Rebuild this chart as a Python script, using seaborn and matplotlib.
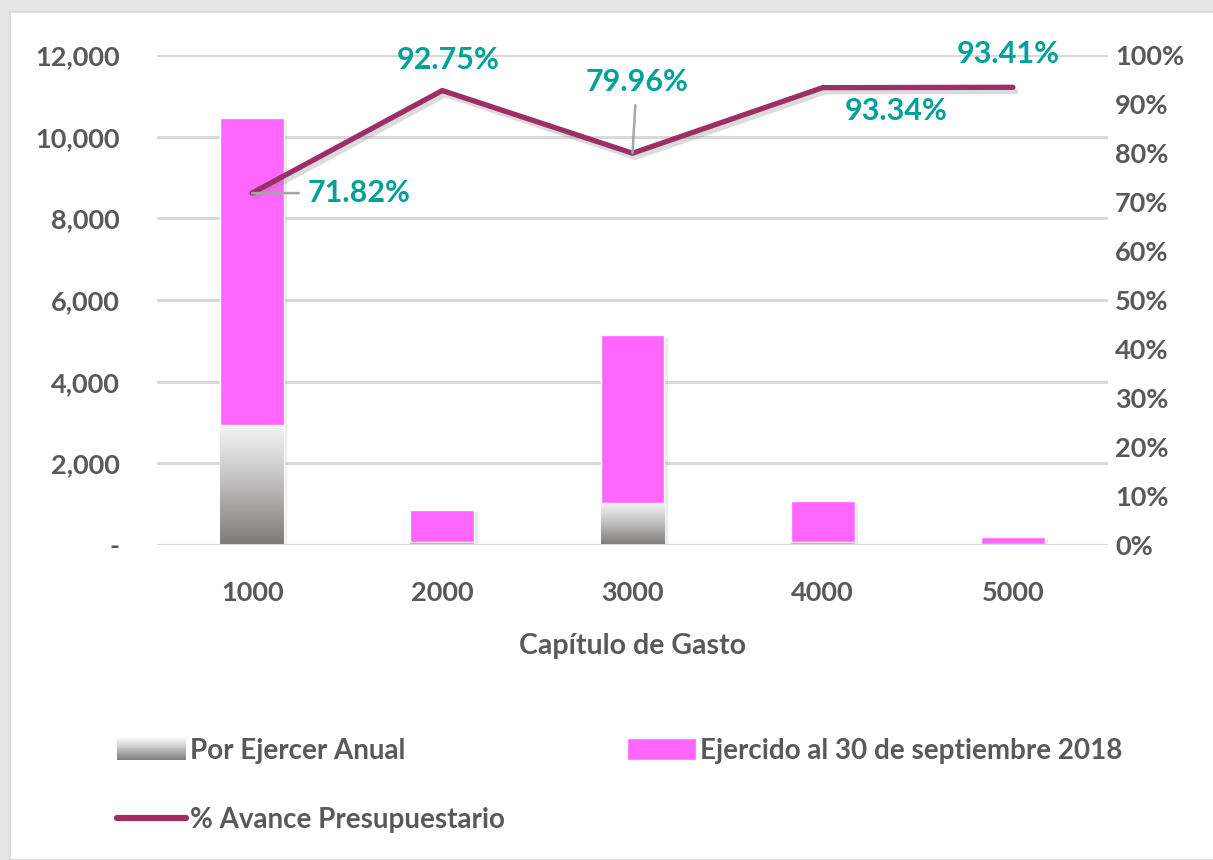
import numpy as np
import pandas as pd
import seaborn as sns
import matplotlib.pyplot as plt
import matplotlib.patheffects as pe
from matplotlib.patches import Rectangle
from matplotlib.lines import Line2D
from matplotlib.legend_handler import HandlerBase
from matplotlib.colors import LinearSegmentedColormap
from matplotlib.ticker import FuncFormatter, MultipleLocator

# datos (miles de pesos aprox.)
capitulos = ["1000", "2000", "3000", "4000", "5000"]
ejercido = [7510, 795, 4110, 1008, 183]
por_ejercer = [2950, 62, 1030, 72, 13]
avance = [71.82, 92.75, 79.96, 93.34, 93.41]
etiquetas = ["71.82%", "92.75%", "79.96%", "93.34%", "93.41%"]

TXT = "#595959"
PINK = "#FF66FF"
LINE = "#9C2F63"
TEAL = "#00A09A"
GRID = "#D9D9D9"

sns.set_style("white")
plt.rcParams["font.family"] = ["Lato", "DejaVu Sans"]
plt.rcParams["font.weight"] = "bold"

df = pd.DataFrame({"cap": capitulos, "ejercido": ejercido, "por_ejercer": por_ejercer})
df["total"] = df["ejercido"] + df["por_ejercer"]

fig = plt.figure(figsize=(12.13, 8.6), dpi=100, facecolor="#E6E6E6")
fig.patches.append(Rectangle((10 / 1213, 0), 1, 1 - 12 / 860, transform=fig.transFigure,
                             facecolor="white", edgecolor="#DADADA", lw=1.5, zorder=-5))
ax = fig.add_axes([157 / 1213, 1 - 545 / 860, (1108 - 157) / 1213, (545 - 55) / 860])
ax.set_facecolor("none")

shadow = [pe.SimplePatchShadow(offset=(2.5, -1.5), shadow_rgbFace="#a0a0a0", alpha=0.22), pe.Normal()]

sns.barplot(data=df, x="cap", y="total", color=PINK, width=0.335, saturation=1, ax=ax, zorder=2)
for p in ax.patches:
    p.set_path_effects(shadow)
n_pink = len(ax.patches)
sns.barplot(data=df, x="cap", y="por_ejercer", color="#BBBBBB", width=0.335, saturation=1, ax=ax, zorder=3)

grad_cmap = LinearSegmentedColormap.from_list("g", ["#7C7979", "#A9A6A6", "#D2D1D1", "#F6F6F6"])
grad = np.linspace(0, 1, 256).reshape(-1, 1)
for p in ax.patches[n_pink:]:
    p.set_path_effects([pe.SimplePatchShadow(offset=(0, -3.5), shadow_rgbFace="#707070", alpha=0.9), pe.Normal()])
    x0, y0 = p.get_x(), p.get_y()
    im = ax.imshow(grad, extent=[x0, x0 + p.get_width(), y0, y0 + p.get_height()],
                   origin="lower", aspect="auto", cmap=grad_cmap, zorder=3.1)
    im.set_clip_path(p)

ax.set_xlim(-0.5, 4.5)
ax.set_ylim(0, 12000)
ax.yaxis.set_major_locator(MultipleLocator(2000))
ax.yaxis.set_major_formatter(FuncFormatter(lambda v, _: "-" if v == 0 else f"{v:,.0f}"))
ax.grid(axis="y", color=GRID, lw=2.2, zorder=1)
ax.set_axisbelow(True)
for s in ax.spines.values():
    s.set_visible(False)
ax.axhline(0, color=GRID, lw=2.2, zorder=4)
ax.tick_params(axis="y", length=0, pad=27, labelsize=19.5, labelcolor=TXT)
ax.tick_params(axis="x", length=0, pad=26, labelsize=19.5, labelcolor=TXT)
ax.set_xlabel("Capítulo de Gasto", fontsize=20.5, color=TXT, fontweight="bold", labelpad=20)
ax.set_ylabel("")

ax2 = ax.twinx()
sns.lineplot(x=np.arange(len(capitulos)), y=avance, ax=ax2, color=LINE, lw=3.8,
             solid_capstyle="round", solid_joinstyle="miter",
             path_effects=[pe.SimpleLineShadow(offset=(2, -3), shadow_color="#888888", alpha=0.3), pe.Normal()])
ax2.set_ylim(0, 100)
ax2.set_xlim(-0.5, 4.5)
ax2.yaxis.set_major_locator(MultipleLocator(10))
ax2.yaxis.set_major_formatter(FuncFormatter(lambda v, _: f"{v:.0f}%"))
ax2.tick_params(axis="y", length=0, pad=5, labelsize=19.5, labelcolor=TXT)
for s in ax2.spines.values():
    s.set_visible(False)
ax2.set_ylabel("")

# posiciones de las etiquetas (offset en puntos) y lineas guia
offs = [(40, 0), (4, 22), (3, 51), (53, -17), (-3, 24)]
has = ["left", "center", "center", "center", "center"]
guia = [True, False, True, False, False]
for i, (v, t) in enumerate(zip(avance, etiquetas)):
    ap = dict(arrowstyle="-", color="#A6A6A6", lw=1.8, shrinkA=4, shrinkB=0) if guia[i] else None
    ax2.annotate(t, (i, v), xytext=offs[i], textcoords="offset points", ha=has[i], va="center",
                 fontsize=22, fontweight="bold", color=TEAL, arrowprops=ap, zorder=6)


class GradHandler(HandlerBase):
    def create_artists(self, legend, orig_handle, xdescent, ydescent, width, height, fontsize, trans):
        arts = []
        n = 24
        for k in range(n):
            c = grad_cmap(k / (n - 1))
            arts.append(Rectangle((-xdescent, -ydescent + height * k / n), width, height / n + 0.3,
                                  facecolor=c, edgecolor="none", transform=trans))
        return arts


h_gray = Rectangle((0, 0), 1, 1)
h_pink = Rectangle((0, 0), 1, 1, facecolor=PINK)
h_line = Line2D([], [], color=LINE, lw=4.5, solid_capstyle="round")
leg = fig.legend([h_gray, h_line, h_pink],
                 ["Por Ejercer Anual", "% Avance Presupuestario", "Ejercido al 30 de septiembre 2018"],
                 handler_map={h_gray: GradHandler()},
                 loc="upper left", bbox_to_anchor=(117 / 1213, 1 - 738 / 860), ncol=2, frameon=False,
                 fontsize=20, handlelength=2.5, handleheight=0.85, handletextpad=0.12,
                 columnspacing=4.4, labelspacing=1.55, borderpad=0, borderaxespad=0)
for t in leg.get_texts():
    t.set_color(TXT)
    t.set_fontweight("bold")

fig.savefig("out.png", dpi=100, facecolor=fig.get_facecolor())
